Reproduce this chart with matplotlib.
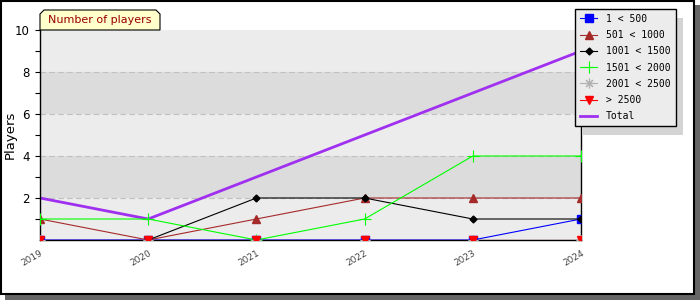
import numpy as np
import matplotlib
matplotlib.use("Agg")
import matplotlib.pyplot as plt
from matplotlib.patches import Rectangle, Polygon

years = [2019, 2020, 2021, 2022, 2023, 2024]
s_1_500 = [0, 0, 0, 0, 0, 1]
s_501_1000 = [1, 0, 1, 2, 2, 2]
s_1001_1500 = [np.nan, 0, 2, 2, 1, 1]
s_1501_2000 = [1, 1, 0, 1, 4, 4]
s_2001_2500 = [0, 0, 0, 0, 0, 0]
s_gt_2500 = [0, 0, 0, 0, 0, 0]
total = [2, 1, 3, 5, 7, 9]
labels = ["1 < 500", "501 < 1000", "1001 < 1500", "1501 < 2000", "2001 < 2500", "> 2500", "Total"]
title = "Number of players"
ylabel = "Players"

W, H = 700, 300
fig = plt.figure(figsize=(7, 3), dpi=100)
fig.patch.set_facecolor("white")

def px(x0, y0, x1, y1):
    # pixel box (top-left origin) -> figure fraction rect
    return (x0 / W, 1 - y1 / H, (x1 - x0) / W, (y1 - y0) / H)

# border + shadow
r = px(5, 5, 700, 300)
fig.patches.append(Rectangle(r[:2], r[2], r[3], transform=fig.transFigure, facecolor="#666666", edgecolor="none", zorder=0))
r = px(0.5, 0.5, 694, 294)
fig.patches.append(Rectangle(r[:2], r[2], r[3], transform=fig.transFigure, facecolor="white", edgecolor="black", linewidth=1.5, zorder=1))

ax = fig.add_axes(px(40, 30, 581, 240))
ax.set_zorder(2)
ax.set_facecolor("none")
ax.set_xlim(years[0], years[-1])
ax.set_ylim(0, 10)

# bands
for i, (lo, hi) in enumerate([(0, 2), (2, 4), (4, 6), (6, 8), (8, 10)]):
    ax.axhspan(lo, hi, color="#ececec" if i % 2 == 0 else "#dcdcdc", zorder=0, lw=0)
for yv in [2, 4, 6, 8]:
    ax.axhline(yv, color="#c0c0c0", lw=0.8, ls=(0, (5, 3)), zorder=0.5)

ax.plot(years, total, color="#a030f0", lw=2.0, zorder=2, label=labels[6])
ax.plot(years, s_1_500, color="#0000ff", lw=0.8, marker="s", ms=5.5, mec="#0000ff", zorder=3, label=labels[0])
ax.plot(years, s_501_1000, color="#a52a2a", lw=0.8, marker="^", ms=6, zorder=3, label=labels[1])
ax.plot(years, s_1001_1500, color="black", lw=0.8, marker="D", ms=3.5, zorder=3, label=labels[2])
ax.plot(years, s_1501_2000, color="#00ff00", lw=0.8, marker="+", ms=8, mew=0.8, zorder=3, label=labels[3])
ax.plot(years, s_2001_2500, color="#b0b0b0", lw=0.8, marker=(8, 2, 0), ms=7, mew=0.8, zorder=3, label=labels[4])
ax.plot(years, s_gt_2500, color="#ff0000", lw=0.8, marker="v", ms=6, zorder=3.5, label=labels[5])

ax.spines["top"].set_visible(False)
for s in ["left", "bottom", "right"]:
    ax.spines[s].set_linewidth(1.0)
    ax.spines[s].set_zorder(2.5)

ax.set_yticks([2, 4, 6, 8, 10])
ax.set_yticks([1, 3, 5, 7, 9], minor=True)
ax.tick_params(axis="y", which="both", direction="out", length=3.5, width=0.8, labelsize=8.5, pad=4)
ax.set_xticks(years)
ax.set_xticklabels([str(y) for y in years], rotation=30, ha="right", rotation_mode="anchor",
                   fontsize=6.5, color="#444444")
ax.tick_params(axis="x", length=0, pad=6)
ax.set_ylabel(ylabel, fontsize=9.5)
ax.yaxis.set_label_coords(-23 / 541, 0.5)

# title tab
x0, x1, y0, y1, c = 40, 160, 10, 30, 4
pts = [(x0, y1), (x0, y0 + c), (x0 + c, y0), (x1 - c, y0), (x1, y0 + c), (x1, y1)]
pts = [(x / W, 1 - y / H) for x, y in pts]
fig.patches.append(Polygon(pts, closed=True, transform=fig.transFigure, facecolor="#ffffcc", edgecolor="black", lw=0.8, zorder=3))
fig.text((x0 + x1) / 2 / W, 1 - (y0 + y1) / 2 / H, title, ha="center", va="center", fontsize=8, color="#990000", zorder=4)

# legend
handles, labs = ax.get_legend_handles_labels()
order = [1, 2, 3, 4, 5, 6, 0]
leg = fig.legend([handles[i] for i in order], [labs[i] for i in order], loc="upper left",
                 bbox_to_anchor=(575 / W, 1 - 9 / H), frameon=True, fancybox=False,
                 prop={"family": "DejaVu Sans Mono", "size": 7},
                 edgecolor="black", facecolor="#ececec", framealpha=1, handlelength=1.8,
                 handletextpad=0.9, labelspacing=0.64, borderpad=0.5, borderaxespad=0, numpoints=1)
leg.get_frame().set_linewidth(1.0)
leg.set_zorder(10)

fig.canvas.draw()
bb = leg.get_window_extent()
sh = Rectangle((bb.x0 + 7, bb.y0 - 9), bb.width, bb.height, transform=None,
               facecolor="#d4d4d4", edgecolor="none", zorder=9)
fig.patches.append(sh)

fig.savefig("out.png", dpi=100)
